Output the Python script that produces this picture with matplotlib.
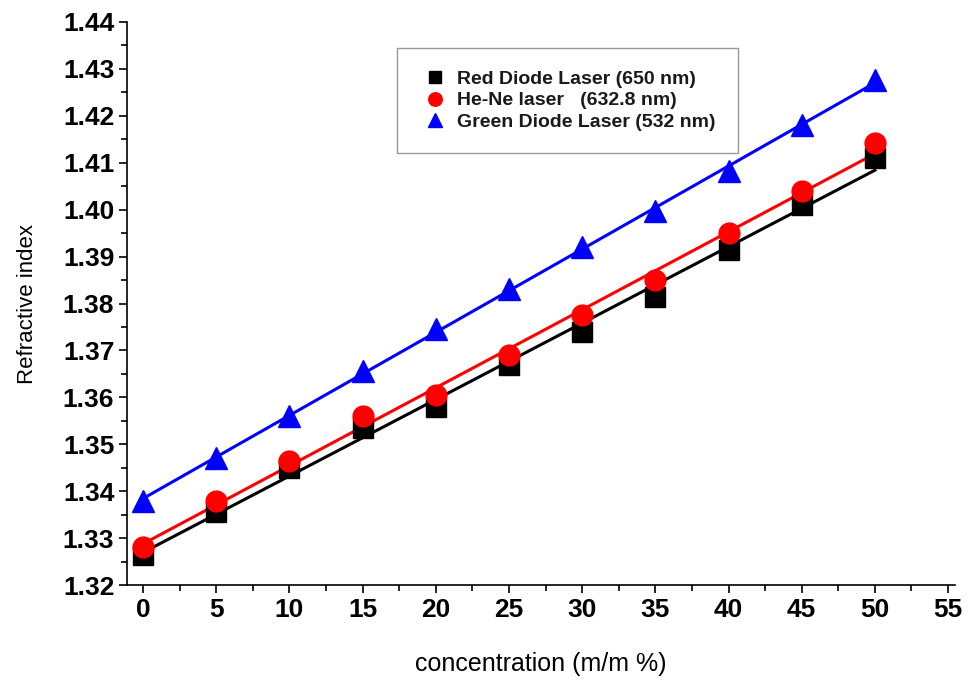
import matplotlib
matplotlib.use('Agg')
import matplotlib.pyplot as plt
from matplotlib.ticker import MultipleLocator, FormatStrFormatter
import numpy as np

plt.rcParams['font.family'] = ['Liberation Sans', 'DejaVu Sans']

concentration = [0, 5, 10, 15, 20, 25, 30, 35, 40, 45, 50]
red_diode = [1.3265, 1.3355, 1.345, 1.3535, 1.358, 1.367, 1.374, 1.3815, 1.3915, 1.401, 1.411]
he_ne = [1.3282, 1.338, 1.3465, 1.356, 1.3605, 1.369, 1.3775, 1.385, 1.395, 1.404, 1.4142]
green_diode = [1.338, 1.347, 1.356, 1.3657, 1.3746, 1.383, 1.392, 1.3998, 1.4083, 1.418, 1.4276]

series = [
    (red_diode, 'black', 's', 14, 'Red Diode Laser (650 nm)'),
    (he_ne, 'red', 'o', 15, 'He-Ne laser   (632.8 nm)'),
    (green_diode, 'blue', '^', 16, 'Green Diode Laser (532 nm)'),
]

fig = plt.figure(figsize=(9.68, 6.86), dpi=100)
ax = fig.add_axes([0.131, 0.147, 0.856, 0.821])

x = np.array(concentration)
for values, color, marker, size, label in series:
    # linear fit line drawn through the measured points
    slope, intercept = np.polyfit(x, values, 1)
    ax.plot(x, slope * x + intercept, color=color, lw=2.2, zorder=2)
    ax.plot(x, values, linestyle='none', marker=marker, color=color,
            markersize=size, label=label, zorder=3)

ax.set_xlim(-1.1, 55.5)
ax.set_ylim(1.32, 1.44)
ax.xaxis.set_major_locator(MultipleLocator(5))
ax.xaxis.set_minor_locator(MultipleLocator(2.5))
ax.yaxis.set_major_locator(MultipleLocator(0.01))
ax.yaxis.set_minor_locator(MultipleLocator(0.005))
ax.yaxis.set_major_formatter(FormatStrFormatter('%.2f'))

ax.spines['top'].set_visible(False)
ax.spines['right'].set_visible(False)
for s in ('left', 'bottom'):
    ax.spines[s].set_linewidth(1.2)
ax.tick_params(which='major', direction='out', length=6, width=1.2, labelsize=19, pad=3)
ax.tick_params(which='minor', direction='out', length=4, width=1.2)
for lbl in ax.get_xticklabels() + ax.get_yticklabels():
    lbl.set_fontweight('bold')

ax.set_xlabel('concentration (m/m %)', fontsize=18, labelpad=22)
ax.set_ylabel('Refractive index', fontsize=16, labelpad=18)

leg = ax.legend(loc='upper left', bbox_to_anchor=(0.326, 0.954),
                prop={'weight': 'bold', 'size': 14}, markerscale=0.65,
                handletextpad=0.35, labelspacing=0.2, borderpad=1.15,
                borderaxespad=0, fancybox=False, edgecolor='#808080',
                handlelength=1.6)
leg.get_frame().set_linewidth(1.0)
for t in leg.get_texts():
    t.set_color('#1a1a1a')

fig.savefig('out.png', dpi=100)
